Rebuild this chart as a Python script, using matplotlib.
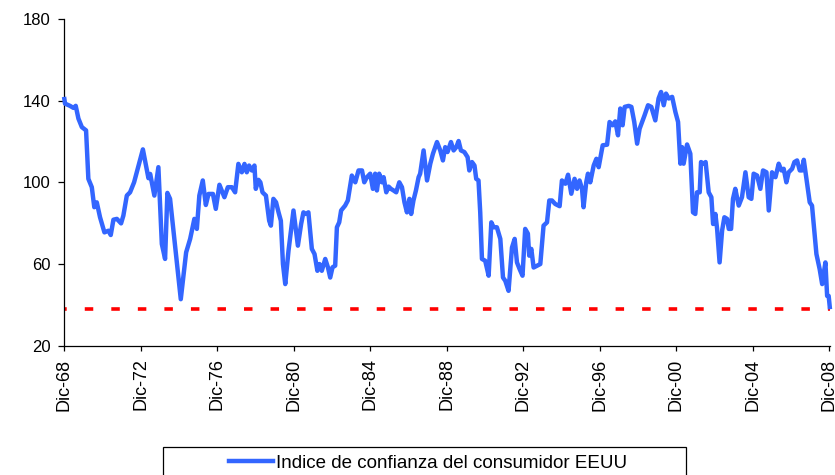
import matplotlib
matplotlib.use("Agg")
import matplotlib.pyplot as plt
from matplotlib.patches import Rectangle
from matplotlib.lines import Line2D

plt.rcParams['font.family'] = ['Liberation Sans', 'DejaVu Sans']

# Decimal year of each reading (Dec-1968 = 1968.92) and index value
years = [
    1968.92, 1968.97, 1969.23, 1969.41, 1969.53, 1969.67, 1969.85, 1970.07, 1970.19, 1970.37,
    1970.50, 1970.63, 1970.80, 1971.03, 1971.24, 1971.36, 1971.50, 1971.68, 1971.90, 1972.02,
    1972.20, 1972.37, 1972.58, 1973.04, 1973.33, 1973.42, 1973.64, 1973.85, 1974.03, 1974.20,
    1974.32, 1974.46, 1975.02, 1975.30, 1975.51, 1975.73, 1975.86, 1975.99, 1976.17, 1976.33,
    1976.47, 1976.70, 1976.85, 1977.04, 1977.30, 1977.48, 1977.69, 1977.86, 1978.03, 1978.21,
    1978.35, 1978.47, 1978.59, 1978.73, 1978.87, 1978.94, 1979.08, 1979.18, 1979.29, 1979.47,
    1979.64, 1979.73, 1979.86, 1980.00, 1980.13, 1980.25, 1980.36, 1980.48, 1980.65, 1980.91,
    1981.14, 1981.31, 1981.43, 1981.56, 1981.69, 1981.87, 1982.01, 1982.16, 1982.27, 1982.39,
    1982.57, 1982.71, 1982.83, 1982.95, 1983.09, 1983.18, 1983.30, 1983.40, 1983.61, 1983.75,
    1983.96, 1984.14, 1984.31, 1984.49, 1984.61, 1984.75, 1984.92, 1985.06, 1985.18, 1985.27,
    1985.39, 1985.53, 1985.62, 1985.76, 1985.88, 1986.00, 1986.14, 1986.28, 1986.44, 1986.58,
    1986.71, 1986.84, 1986.97, 1987.06, 1987.18, 1987.31, 1987.45, 1987.53, 1987.71, 1987.89,
    1988.06, 1988.20, 1988.41, 1988.58, 1988.72, 1988.84, 1988.96, 1989.14, 1989.28, 1989.42,
    1989.54, 1989.66, 1989.84, 1990.01, 1990.10, 1990.24, 1990.37, 1990.46, 1990.58, 1990.67,
    1990.76, 1990.93, 1991.11, 1991.25, 1991.37, 1991.54, 1991.72, 1991.86, 1991.98, 1992.15,
    1992.33, 1992.47, 1992.59, 1992.73, 1992.88, 1993.02, 1993.16, 1993.23, 1993.34, 1993.46,
    1993.64, 1993.81, 1993.98, 1994.16, 1994.28, 1994.42, 1994.59, 1994.82, 1994.94, 1995.12,
    1995.26, 1995.43, 1995.60, 1995.73, 1995.86, 1995.99, 1996.07, 1996.21, 1996.30, 1996.42,
    1996.60, 1996.74, 1996.86, 1997.07, 1997.30, 1997.43, 1997.59, 1997.73, 1997.87, 1997.99,
    1998.11, 1998.22, 1998.43, 1998.57, 1998.72, 1998.87, 1999.00, 1999.13, 1999.26, 1999.44,
    1999.61, 1999.82, 1999.99, 2000.12, 2000.26, 2000.38, 2000.52, 2000.70, 2000.87, 2001.01,
    2001.13, 2001.22, 2001.30, 2001.48, 2001.65, 2001.79, 2001.91, 2002.00, 2002.14, 2002.21,
    2002.35, 2002.45, 2002.61, 2002.75, 2002.84, 2002.96, 2003.05, 2003.18, 2003.31, 2003.43,
    2003.57, 2003.66, 2003.78, 2003.88, 2004.00, 2004.18, 2004.35, 2004.53, 2004.70, 2004.84,
    2004.96, 2005.14, 2005.31, 2005.45, 2005.63, 2005.75, 2005.92, 2006.10, 2006.27, 2006.41,
    2006.53, 2006.67, 2006.79, 2006.97, 2007.09, 2007.23, 2007.37, 2007.49, 2007.58, 2007.72,
    2007.89, 2008.01, 2008.24, 2008.41, 2008.54, 2008.71, 2008.80, 2008.88, 2008.95,
]
confidence = [
    141.9, 138.6, 137.5, 136.5, 137.5, 131.3, 127.1, 125.5, 101.8, 97.7,
    87.9, 90.3, 83.0, 75.6, 76.4, 74.3, 81.8, 82.2, 80.0, 83.8,
    93.6, 95.2, 100.1, 116.2, 102.1, 104.2, 93.6, 107.5, 69.9, 62.6,
    94.9, 92.0, 42.9, 65.8, 72.4, 82.2, 77.3, 93.6, 101.0, 89.0,
    94.4, 94.4, 87.1, 98.9, 92.8, 97.7, 97.7, 95.2, 109.1, 105.0,
    109.1, 105.0, 108.3, 105.9, 108.3, 96.9, 101.3, 100.1, 95.2, 93.6,
    81.3, 78.9, 92.0, 90.3, 85.4, 81.3, 60.1, 50.3, 66.6, 86.3,
    69.1, 79.7, 85.4, 84.6, 85.4, 67.5, 65.0, 56.8, 60.1, 56.8,
    62.6, 58.5, 53.5, 58.5, 59.3, 78.1, 80.5, 86.3, 88.7, 91.2,
    103.4, 100.1, 105.9, 105.9, 100.1, 102.6, 104.3, 96.9, 104.3, 96.1,
    104.3, 100.1, 102.6, 95.2, 98.0, 96.9, 96.1, 95.2, 100.1, 97.7,
    90.3, 85.4, 92.0, 84.6, 91.2, 96.1, 102.6, 104.3, 115.7, 101.0,
    109.2, 114.1, 119.8, 115.7, 110.8, 117.3, 114.9, 119.8, 115.7, 117.3,
    120.3, 115.7, 114.9, 112.4, 105.9, 110.0, 108.3, 101.8, 101.0, 85.4,
    62.6, 61.7, 54.4, 80.5, 78.1, 78.1, 72.4, 53.5, 51.9, 47.0,
    68.2, 72.4, 60.9, 57.6, 54.4, 77.3, 75.0, 64.2, 67.5, 58.4,
    59.3, 60.1, 78.9, 80.5, 91.2, 91.2, 89.5, 88.4, 101.0, 99.4,
    103.8, 94.5, 101.8, 96.9, 101.0, 96.9, 87.9, 100.1, 104.3, 100.1,
    108.3, 111.6, 107.5, 118.2, 118.5, 129.6, 128.0, 129.9, 123.1, 136.2,
    128.0, 137.0, 137.5, 137.0, 129.6, 119.0, 126.3, 129.6, 132.9, 137.8,
    137.0, 130.4, 141.1, 144.3, 137.8, 143.5, 141.1, 141.9, 134.5, 129.6,
    109.2, 117.3, 109.2, 118.6, 114.1, 85.4, 84.6, 95.2, 95.2, 110.0,
    109.2, 110.0, 95.2, 92.8, 79.7, 84.6, 77.3, 60.9, 76.4, 83.0,
    82.2, 77.3, 77.3, 92.0, 96.9, 88.7, 92.8, 105.0, 92.8, 92.0,
    104.3, 103.4, 96.9, 105.9, 105.0, 86.3, 105.0, 102.6, 109.2, 105.9,
    106.7, 100.1, 105.0, 106.7, 110.0, 110.8, 105.9, 105.9, 111.1, 101.8,
    90.3, 88.7, 65.0, 57.6, 50.3, 60.9, 44.5, 44.5, 38.0,
]
reference_level = 38.0
tick_years = [1968.917 + 4 * k for k in range(11)]
tick_labels = ["Dic-68", "Dic-72", "Dic-76", "Dic-80", "Dic-84", "Dic-88",
               "Dic-92", "Dic-96", "Dic-00", "Dic-04", "Dic-08"]
y_ticks = [20, 60, 100, 140, 180]
series_label = "Indice de confianza del consumidor EEUU"

W, H = 835, 475
fig = plt.figure(figsize=(W / 100, H / 100), dpi=100)
fig.patch.set_facecolor('white')
ax = fig.add_axes([64 / W, 129 / H, 766 / W, 327 / H])

blue = '#3366FF'
ax.plot(years, confidence, color=blue, lw=3.2, solid_joinstyle='round',
        solid_capstyle='butt', clip_on=False, zorder=3)
ax.axhline(reference_level, color='#FF0000', lw=2.6,
           linestyle=(1.6, (2.35, 5.0)), dash_capstyle='butt', zorder=2)

ax.set_xlim(1968.917, 2008.95)
ax.set_ylim(20, 180)
ax.set_yticks(y_ticks)
ax.set_xticks(tick_years)
ax.set_xticklabels(tick_labels, rotation=90)
for s in ['top', 'right']:
    ax.spines[s].set_visible(False)
for s in ['left', 'bottom']:
    ax.spines[s].set_linewidth(0.9)
    ax.spines[s].set_color('black')
ax.tick_params(axis='y', direction='out', length=4.5, width=0.9, pad=5,
               labelsize=12, colors='black')
ax.tick_params(axis='x', direction='out', length=3.5, width=0.9, pad=5.5,
               labelsize=13, colors='black')

# legend box
fig.patches.append(Rectangle((163 / W, -20 / H), (686 - 163) / W, (20 + 475 - 447) / H,
                             transform=fig.transFigure, facecolor='white',
                             edgecolor='black', lw=0.9, zorder=5))
handle = Line2D([], [], color=blue, lw=3.2)
fig.legend([handle], [series_label], loc='center',
           bbox_to_anchor=((226 + 630) / 2 / W, 1 - 463 / H),
           frameon=False, fontsize=13.5, handlelength=2.35, handletextpad=0.2,
           borderpad=0, borderaxespad=0)

fig.savefig('out.png', dpi=100)
